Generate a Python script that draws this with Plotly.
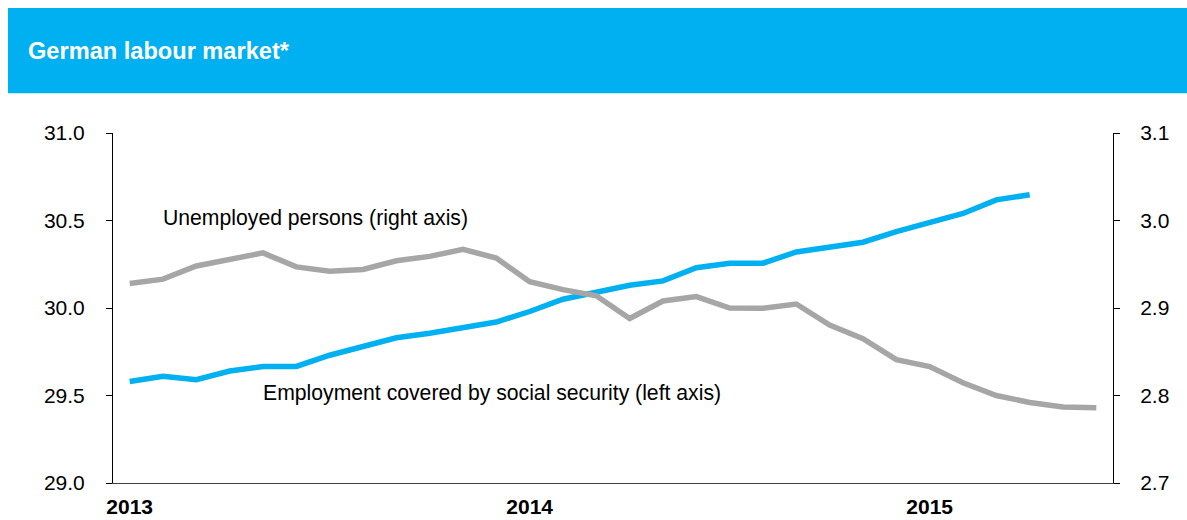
import pandas as pd
import plotly.graph_objects as go

# Monthly categories, Jan 2013 - Jun 2015
months = [d.strftime("%b %Y") for d in pd.date_range("2013-01-01", periods=30, freq="MS")]

# Employment covered by social security, millions (left axis)
employment = [29.58, 29.61, 29.59, 29.64, 29.666, 29.666, 29.73, 29.78, 29.83, 29.856,
              29.885, 29.92, 29.98, 30.05, 30.09, 30.13, 30.155, 30.23, 30.256, 30.256,
              30.32, 30.35, 30.376, 30.437, 30.488, 30.54, 30.618, 30.647]

# Unemployed persons, millions (right axis)
unemployed = [2.928, 2.933, 2.948, 2.955, 2.963, 2.947, 2.942, 2.944, 2.954, 2.959,
              2.967, 2.957, 2.930, 2.921, 2.914, 2.888, 2.908, 2.913, 2.900, 2.8997,
              2.9046, 2.8805, 2.865, 2.841, 2.833, 2.8145, 2.800, 2.792, 2.787, 2.786]

year_ticks = ["Jan 2013", "Jan 2014", "Jan 2015"]
year_labels = ["2013", "2014", "2015"]

BLUE = "#00B0F0"
GREY = "#A6A6A6"
FONT = "Liberation Sans, Arial, sans-serif"

fig = go.Figure()
fig.add_trace(go.Scatter(x=months[:len(employment)], y=employment, mode="lines",
                         line=dict(color=BLUE, width=5.5), yaxis="y", hoverinfo="skip"))
fig.add_trace(go.Scatter(x=months, y=unemployed, mode="lines",
                         line=dict(color=GREY, width=5.5), yaxis="y2", hoverinfo="skip"))

fig.update_layout(
    width=1187, height=520,
    margin=dict(l=113, r=74, t=133, b=37),
    paper_bgcolor="white", plot_bgcolor="white",
    showlegend=False,
    font=dict(family=FONT, size=21, color="#000000"),
    xaxis=dict(type="category", categoryorder="array", categoryarray=months,
               range=[-0.5, 29.5], tickvals=year_ticks, ticktext=year_labels,
               tickfont=dict(family=FONT, size=21, color="#000000", weight="bold"),
               showgrid=False, zeroline=False, showline=True, linecolor="#404040",
               linewidth=1, ticks="", ticklabelstandoff=5, automargin=False),
    yaxis=dict(range=[29.0, 31.0], dtick=0.5, tickformat=".1f", showgrid=False,
               zeroline=False, showline=True, linecolor="#000000", linewidth=1,
               ticks="outside", ticklen=6, tickcolor="#000000", ticklabelstandoff=17,
               automargin=False),
    yaxis2=dict(range=[2.7, 3.1], dtick=0.1, tickformat=".1f", overlaying="y",
                side="right", showgrid=False, zeroline=False, showline=True,
                linecolor="#000000", linewidth=1, ticks="outside", ticklen=6,
                tickcolor="#000000", ticklabelstandoff=16, automargin=False),
    shapes=[dict(type="rect", xref="paper", yref="paper", x0=-0.105, x1=1.074,
                 y0=1.1134, y1=1.357, fillcolor=BLUE, line=dict(width=0), layer="below")],
    annotations=[
        dict(text="<b>German labour market*</b>", xref="paper", yref="paper",
             x=-0.087, y=1.234, xanchor="left", yanchor="middle", showarrow=False,
             font=dict(family=FONT, size=23.6, color="white")),
        dict(text="Unemployed persons (right axis)", xref="x", yref="y",
             x=months[1], y=30.515, xanchor="left", yanchor="middle", showarrow=False,
             xshift=-2, font=dict(family=FONT, size=21.2, color="#000000")),
        dict(text="Employment covered by social security (left axis)", xref="x", yref="y",
             x=months[4], y=29.515, xanchor="left", yanchor="middle", showarrow=False,
             xshift=-2, font=dict(family=FONT, size=21.2, color="#000000")),
    ],
)

fig.write_html("out.html")
